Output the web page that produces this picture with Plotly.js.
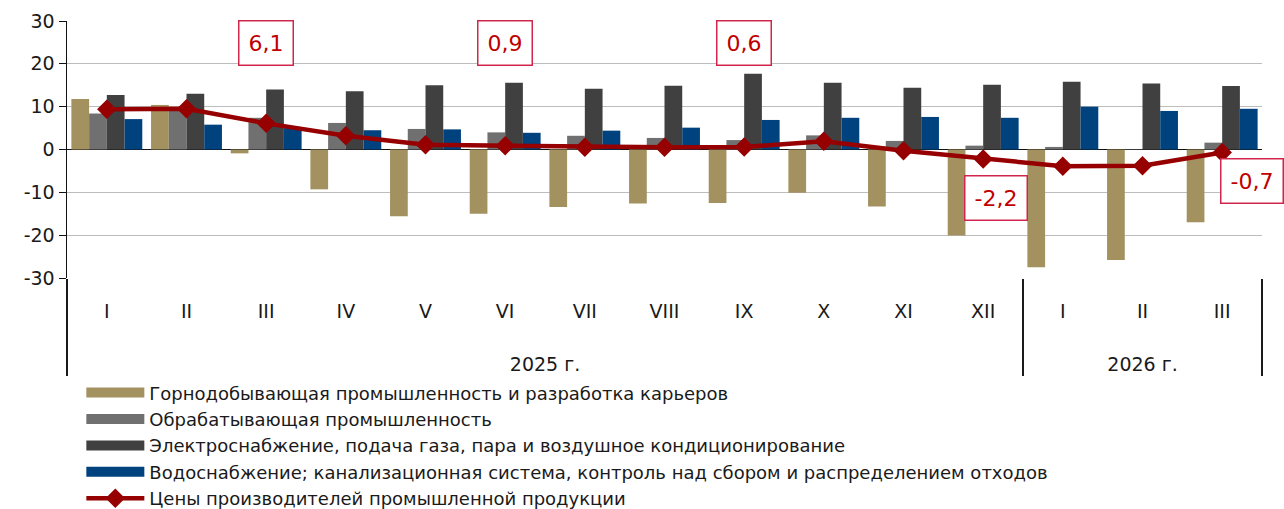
<!DOCTYPE html>
<html>
<head>
<meta charset="utf-8">
<script src="https://cdn.plot.ly/plotly-3.0.1.min.js"></script>
<style>html,body{margin:0;padding:0;background:#fff;}#chart{width:1284px;height:509px;}</style>
</head>
<body>
<div id="chart"></div>
<script>
const years = ["2025 г.","2025 г.","2025 г.","2025 г.","2025 г.","2025 г.","2025 г.","2025 г.","2025 г.","2025 г.","2025 г.","2025 г.","2026 г.","2026 г.","2026 г."];
const months = ["I","II","III","IV","V","VI","VII","VIII","IX","X","XI","XII","I","II","III"];
const mining = [11.8, 10.4, -0.9, -9.3, -15.6, -15.0, -13.4, -12.6, -12.5, -10.1, -13.3, -20.1, -27.5, -25.8, -17.0];
const manufacturing = [8.4, 9.2, 7.4, 6.2, 4.8, 4.0, 3.2, 2.7, 2.2, 3.3, 2.0, 0.9, 0.6, 0.1, 1.6];
const electricity = [12.7, 13.0, 14.0, 13.6, 15.0, 15.6, 14.2, 14.9, 17.7, 15.6, 14.4, 15.1, 15.8, 15.4, 14.8];
const water = [7.1, 5.8, 5.0, 4.5, 4.7, 3.9, 4.4, 5.1, 6.9, 7.4, 7.6, 7.4, 10.0, 9.0, 9.5];
const ppi = [9.4, 9.5, 6.1, 3.2, 1.1, 0.9, 0.5, 0.5, 0.6, 1.9, -0.3, -2.2, -3.9, -3.8, -0.7];
const yTickVals = [-30, -20, -10, 0, 10, 20, 30];
const yTickText = ["-30", "-20", "-10", "0", "10", "20", "30"];
const seriesNames = [
  "Горнодобывающая промышленность и разработка карьеров",
  "Обрабатывающая промышленность",
  "Электроснабжение, подача газа, пара и воздушное кондиционирование",
  "Водоснабжение; канализационная система, контроль над сбором и распределением отходов",
  "Цены производителей промышленной продукции"
];
const calloutIdx = [2, 5, 8, 11, 14];
const calloutText = ["6,1", "0,9", "0,6", "-2,2", "-0,7"];

const FONT = "DejaVu Sans, sans-serif";
// year labels get two blank (nbsp) lines above them so the second label row sits lower
const x = [years.map(y => "\u00a0<br>\u00a0<br>" + y), months];
const colors = ["#A39160", "#707070", "#404040", "#00427E"];
const barData = [mining, manufacturing, electricity, water];
const traces = barData.map((d, i) => ({
  type: "bar", x: x, y: d, name: seriesNames[i], showlegend: false,
  marker: {color: colors[i]}
}));
// legend entries drawn as wide swatches (no visible point)
barData.forEach((d, i) => traces.push({
  type: "scatter", mode: "lines", x: [[x[0][0]], [x[1][0]]], y: [null], name: seriesNames[i], showlegend: true,
  line: {color: colors[i], width: 14}, hoverinfo: "skip"
}));
traces.push({
  type: "scatter", mode: "lines+markers", x: x, y: ppi, name: seriesNames[4],
  line: {color: "#960000", width: 4.5},
  marker: {symbol: "diamond", size: 15, color: "#960000"}
});

const callY = [24.8, 24.8, 24.8, -11.3, -7.3];
const callShift = [0, 0, 0, 13, 30];
const annotations = calloutIdx.map((k, i) => ({
  x: k, y: callY[i], xref: "x", yref: "y", text: calloutText[i],
  showarrow: false, xshift: callShift[i],
  font: {family: FONT, size: 22, color: "#C00000"},
  bgcolor: "#ffffff", bordercolor: "#D0264C", borderwidth: 1.5, borderpad: 9
}));

const layout = {
  width: 1284, height: 509,
  margin: {l: 67, r: 22, t: 21, b: 231, autoexpand: false},
  paper_bgcolor: "#fff", plot_bgcolor: "#fff",
  barmode: "group", bargap: 0.11, bargroupgap: 0,
  font: {family: FONT, size: 19, color: "#1a1a1a"},
  showlegend: true,
  legend: {orientation: "v", x: 0.012, y: -0.375, xanchor: "left", yanchor: "top",
           font: {family: FONT, size: 18, color: "#1a1a1a"}, itemwidth: 58, tracegroupgap: 0,
           bgcolor: "rgba(0,0,0,0)"},
  xaxis: {type: "multicategory", range: [-0.5, 14.5], automargin: false, showgrid: false, showline: false,
          showdividers: true, dividercolor: "#1a1a1a", dividerwidth: 1.5,
          ticks: "", ticklabelstandoff: 20,
          tickfont: {family: FONT, size: 19, color: "#1a1a1a"}},
  yaxis: {range: [-30, 30], tickvals: yTickVals, ticktext: yTickText, automargin: false,
          showgrid: true, gridcolor: "#BDBDBD", gridwidth: 1.3,
          zeroline: true, zerolinecolor: "#111", zerolinewidth: 1.5,
          showline: true, linecolor: "#111", linewidth: 1.5,
          ticks: "outside", ticklen: 7, tickcolor: "#111",
          tickfont: {family: FONT, size: 19, color: "#1a1a1a"}},
  annotations: annotations
};
Plotly.newPlot("chart", traces, layout, {displayModeBar: false, staticPlot: true});
</script>
</body>
</html>
